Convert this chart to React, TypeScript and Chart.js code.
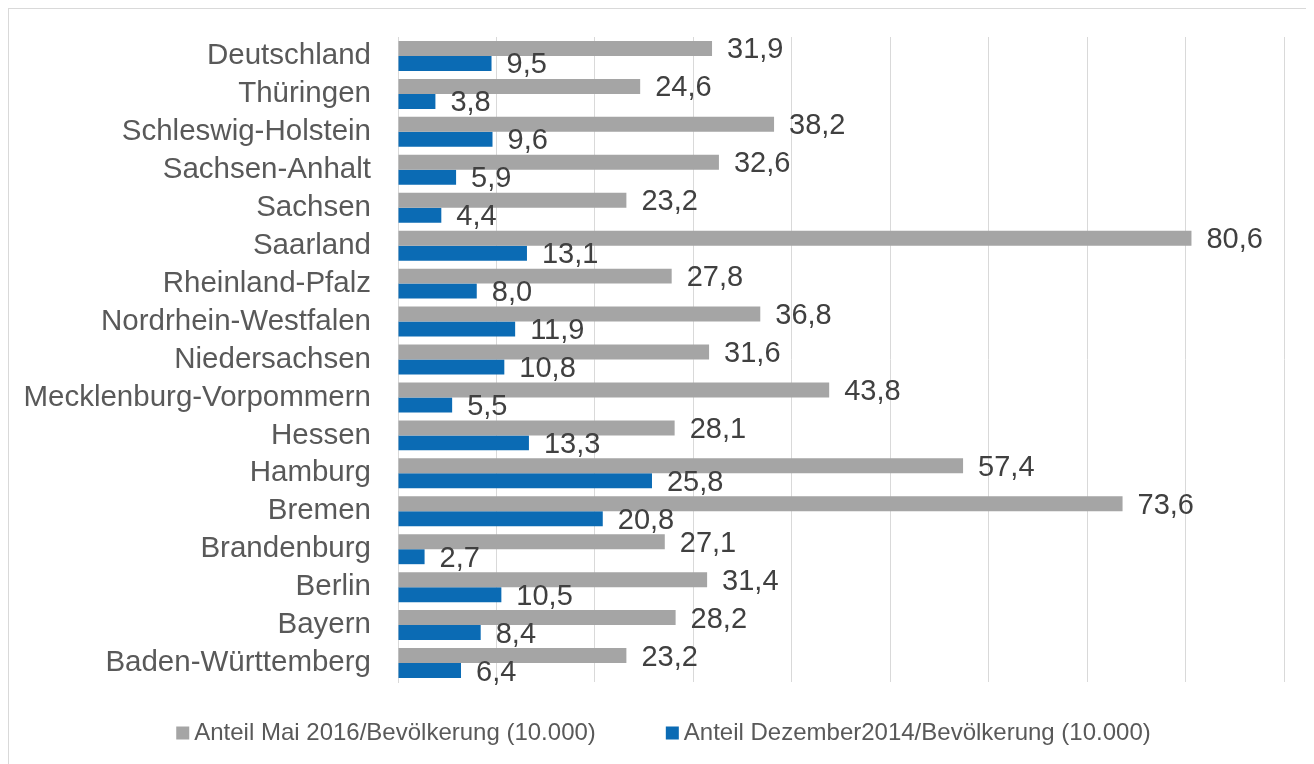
import React, { useEffect, useRef } from "react";
import { Chart, registerables } from "chart.js";

Chart.register(...registerables);

const categories = [
  "Deutschland",
  "Thüringen",
  "Schleswig-Holstein",
  "Sachsen-Anhalt",
  "Sachsen",
  "Saarland",
  "Rheinland-Pfalz",
  "Nordrhein-Westfalen",
  "Niedersachsen",
  "Mecklenburg-Vorpommern",
  "Hessen",
  "Hamburg",
  "Bremen",
  "Brandenburg",
  "Berlin",
  "Bayern",
  "Baden-Württemberg",
];

const seriesMai2016 = [31.9, 24.6, 38.2, 32.6, 23.2, 80.6, 27.8, 36.8, 31.6, 43.8, 28.1, 57.4, 73.6, 27.1, 31.4, 28.2, 23.2];
const seriesDez2014 = [9.5, 3.8, 9.6, 5.9, 4.4, 13.1, 8.0, 11.9, 10.8, 5.5, 13.3, 25.8, 20.8, 2.7, 10.5, 8.4, 6.4];

const seriesLabels = [
  "Anteil Mai 2016/Bevölkerung (10.000)",
  "Anteil Dezember2014/Bevölkerung (10.000)",
];

const GRAY = "#a5a5a5";
const BLUE = "#0b6bb4";
const FONT = "'Liberation Sans', Arial, sans-serif";

const dataLabelPlugin = {
  id: "dataLabels",
  afterDatasetsDraw(chart: any) {
    const ctx = chart.ctx;
    ctx.save();
    ctx.font = `29px ${FONT}`;
    ctx.fillStyle = "#404040";
    ctx.textAlign = "left";
    ctx.textBaseline = "alphabetic";
    chart.data.datasets.forEach((ds: any, di: number) => {
      const meta = chart.getDatasetMeta(di);
      meta.data.forEach((bar: any, i: number) => {
        const v = ds.data[i] as number;
        const txt = v.toFixed(1).replace(".", ",");
        ctx.fillText(txt, bar.x + 15, bar.y + 10);
      });
    });
    ctx.restore();
  },
};

const customLegendPlugin = {
  id: "customLegend",
  afterDraw(chart: any) {
    const ctx = chart.ctx;
    ctx.save();
    ctx.font = `24px ${FONT}`;
    ctx.textBaseline = "middle";
    ctx.textAlign = "left";
    const box = 13;
    const gap = 5;
    const itemGap = 70;
    const items = chart.data.datasets.map((ds: any) => ({
      label: ds.label,
      color: ds.backgroundColor,
      w: ctx.measureText(ds.label).width,
    }));
    let total = 0;
    items.forEach((it: any, i: number) => {
      total += box + gap + it.w + (i < items.length - 1 ? itemGap : 0);
    });
    let x = chart.width / 2 + 3 - total / 2;
    const cy = 724;
    items.forEach((it: any) => {
      ctx.fillStyle = it.color;
      ctx.fillRect(x, cy - box / 2, box, box);
      ctx.fillStyle = "#595959";
      ctx.fillText(it.label, x + box + gap, cy);
      x += box + gap + it.w + itemGap;
    });
    ctx.restore();
  },
};

export default function App() {
  const ref = useRef<HTMLCanvasElement | null>(null);

  useEffect(() => {
    document.body.style.overflow = "hidden";
    const canvas = ref.current;
    if (!canvas) return;
    const chart = new Chart(canvas, {
      type: "bar",
      data: {
        labels: categories,
        datasets: [
          {
            label: seriesLabels[0],
            data: seriesMai2016,
            backgroundColor: GRAY,
            borderWidth: 0,
            categoryPercentage: 0.79,
            barPercentage: 1.0,
          },
          {
            label: seriesLabels[1],
            data: seriesDez2014,
            backgroundColor: BLUE,
            borderWidth: 0,
            categoryPercentage: 0.79,
            barPercentage: 1.0,
          },
        ],
      },
      options: {
        indexAxis: "y",
        animation: false,
        responsive: false,
        devicePixelRatio: 1,
        layout: { padding: { top: 28, right: 28, bottom: 87, left: 0 } },
        plugins: {
          legend: { display: false },
          tooltip: { enabled: false },
          title: { display: false },
        },
        scales: {
          x: {
            min: 0,
            max: 90,
            ticks: { stepSize: 10, display: false },
            grid: { color: "#d9d9d9", lineWidth: 1, drawTicks: false },
            border: { display: false },
          },
          y: {
            ticks: {
              color: "#595959",
              font: { family: FONT, size: 29.5 },
              padding: 27,
              autoSkip: false,
            },
            grid: { display: false, drawTicks: false },
            border: { display: true, color: "#d9d9d9", width: 1 },
            afterFit(scale: any) {
              scale.width = 389;
              scale.paddingTop = 0;
              scale.paddingBottom = 0;
            },
          },
        },
      },
      plugins: [dataLabelPlugin, customLegendPlugin],
    });
    return () => chart.destroy();
  }, []);

  return (
    <div
      style={{
        width: 1303,
        height: 770,
        border: "1px solid #d9d9d9",
        background: "#fff",
      }}
    >
      <canvas ref={ref} width={1303} height={760} style={{ display: "block" }} />
    </div>
  );
}
